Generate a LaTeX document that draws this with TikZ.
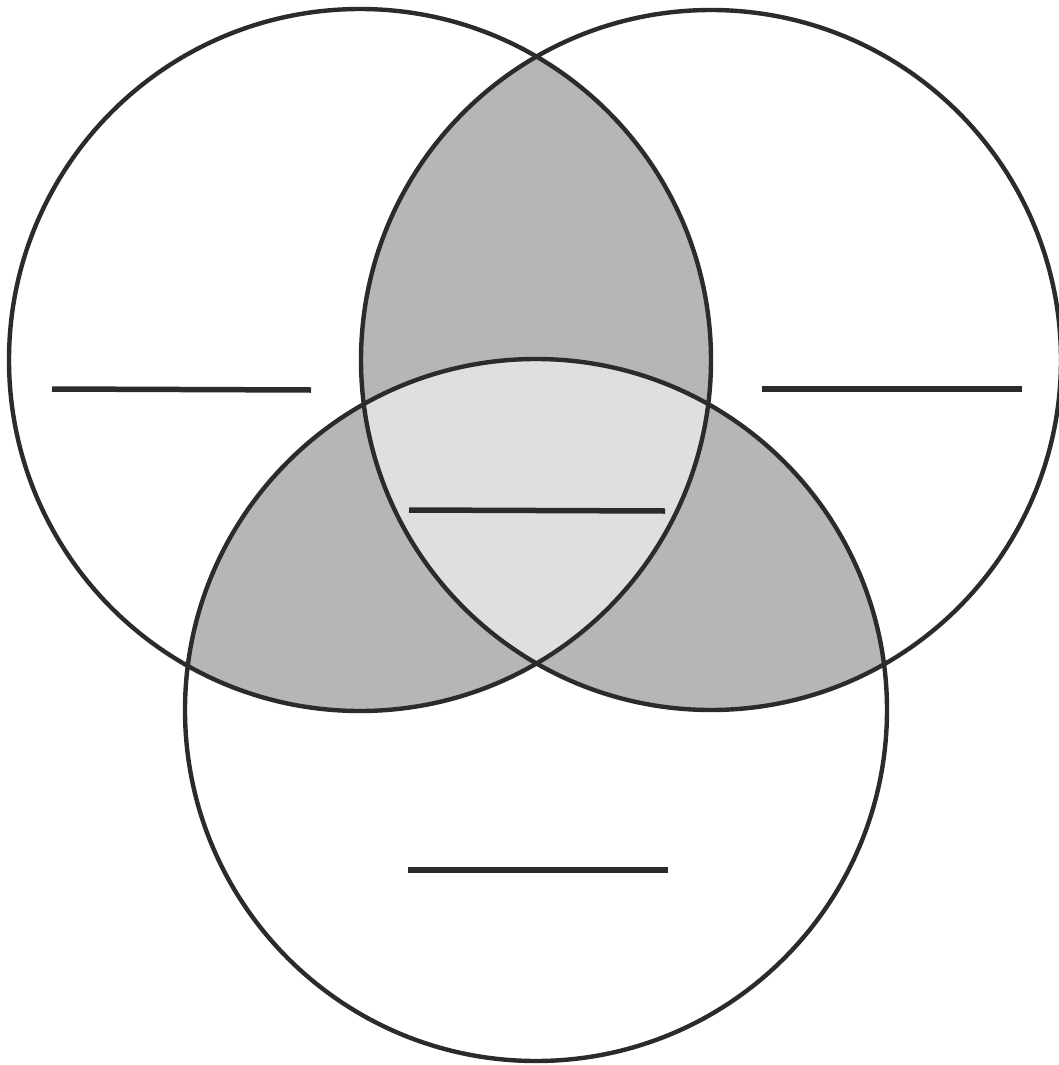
\documentclass[tikz,border=0pt]{standalone}
\begin{document}
\begin{tikzpicture}[x=1pt,y=-1pt,
  ring/.style={draw=strokec,line width=4.4pt},
  blank/.style={draw=strokec,line width=5.5pt}]
\definecolor{strokec}{HTML}{2B2B2B}
\definecolor{darkg}{HTML}{B5B6B8}
\definecolor{lightg}{HTML}{DFDFE1}
\useasboundingbox (0,0) rectangle (1059,1065);
\def\cL{(360,360) circle[radius=351]}
\def\cR{(711,360) circle[radius=350]}
\def\cB{(536,710) circle[radius=351]}
% pairwise intersections
\begin{scope}\clip \cL; \fill[darkg] \cR; \end{scope}
\begin{scope}\clip \cL; \fill[darkg] \cB; \end{scope}
\begin{scope}\clip \cR; \fill[darkg] \cB; \end{scope}
% triple intersection
\begin{scope}\clip \cL; \clip \cR; \fill[lightg] \cB; \end{scope}
\draw[ring] \cL;
\draw[ring] \cR;
\draw[ring] \cB;
% blanks
\coordinate (a1) at (52,389); \coordinate (a2) at (311,390);
\coordinate (b1) at (762,389); \coordinate (b2) at (1022,389);
\coordinate (c1) at (409,510); \coordinate (c2) at (665,511);
\coordinate (d1) at (408,870); \coordinate (d2) at (668,870);
\draw[blank] (a1) -- (a2);
\draw[blank] (b1) -- (b2);
\draw[blank] (c1) -- (c2);
\draw[blank] (d1) -- (d2);
\end{tikzpicture}
\end{document}
